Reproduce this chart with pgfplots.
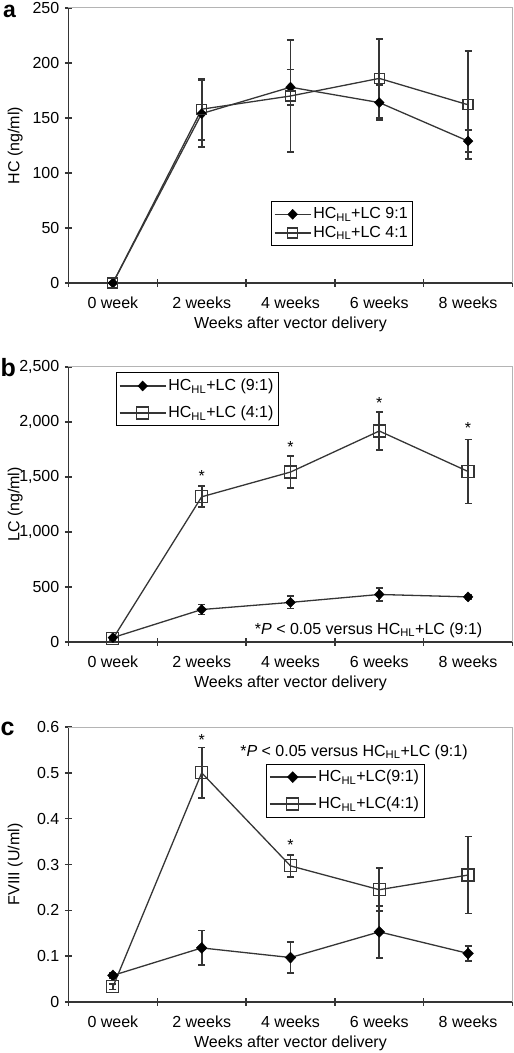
\documentclass[border=0pt]{standalone}
\usepackage{fontspec}
\setmainfont{Liberation Sans}
\usepackage{pgfplots}
\pgfplotsset{compat=1.18}
\definecolor{ln}{HTML}{353535}
\definecolor{frame}{HTML}{B4B4B4}
\pgfplotsset{
  panel/.style={
    scale only axis, width=444pt, height=275pt,
    xmin=-0.5, xmax=4.5, clip=false,
    axis lines*=left,
    axis line style={ln, line width=1.6pt},
    xtick={0,1,2,3,4},
    xticklabels={0 week, 2 weeks, 4 weeks, 6 weeks, 8 weeks},
    minor xtick={-0.5,0.5,1.5,2.5,3.5,4.5},
    major x tick style={draw=none},
    minor x tick style={ln, line width=1.4pt},
    ytick style={ln, line width=1.4pt},
    minor tick length=8pt, major tick length=7pt,
    tick align=center,
    xticklabel style={anchor=base, yshift=-22pt, inner sep=0pt},
    yticklabel style={anchor=east, xshift=-5.5pt, inner sep=0pt},
    xlabel={Weeks after vector delivery},
    every axis x label/.style={at={(axis description cs:0.5,0)}, anchor=center, yshift=-41pt},
    every axis y label/.style={at={(axis description cs:-0.12,0.5)}, anchor=center, rotate=90},
    legend cell align=left,
    legend style={draw=black, line width=1pt, fill=white, inner xsep=3pt, inner ysep=4pt,
      nodes={inner sep=2pt, text=black}},
    after end axis/.code={\draw[frame, line width=1pt] (rel axis cs:0,1) -- (rel axis cs:1,1) -- (rel axis cs:1,0);},
  },
  limg/.style={legend image code/.code={\draw[mark repeat=2,mark phase=2,##1] plot coordinates {(0pt,0pt) (#1/2,0pt) (#1,0pt)};}},
  s9/.style={color=ln, line width=1.3pt, mark=diamond*, mark size=5pt,
    mark options={solid, fill=black, draw=black, xscale=1.3, line width=0.4pt}},
  s4/.style={color=ln, line width=1.3pt, mark=square, mark size=5pt,
    mark options={solid, draw=ln, fill=none, line width=1.2pt}},
  eb/.style={error bars/.cd, y dir=both, y explicit,
    error bar style={line width=1.7pt, ln},
    error mark options={rotate=90, mark size=3.5pt, line width=1.7pt, ln}},
}
\begin{document}
\fontsize{16}{19}\selectfont
\begin{tikzpicture}
\useasboundingbox (0,0) rectangle (514pt,1053pt);
% ---------- panel a ----------
\begin{axis}[panel, at={(68.5pt,770pt)}, anchor=south west,
  ymin=0, ymax=250, ytick={0,50,100,150,200,250},
  yticklabels={0,50,100,150,200,250},
  ylabel={HC (ng/ml)},
  limg=36pt,
  legend style={at={(0.455,0.298)}, anchor=north west, row sep=1pt}]
\addplot[s9, eb] coordinates {
  (0,0) +- (0,0)
  (1,154) +- (0,30.5)
  (2,178) +- (0,16)
  (3,164) +- (0,16)
  (4,129) +- (0,10)
};
\addlegendentry{HC\textsubscript{HL}+LC 9:1}
\addplot[s4, eb] coordinates {
  (0,0) +- (0,0)
  (1,158) +- (0,28)
  (2,170) +- (0,51)
  (3,186) +- (0,36)
  (4,162) +- (0,49)
};
\addlegendentry{HC\textsubscript{HL}+LC 4:1}
\end{axis}
% ---------- panel b ----------
\begin{axis}[panel, at={(68.5pt,411pt)}, anchor=south west,
  ymin=0, ymax=2500, ytick={0,500,1000,1500,2000,2500},
  yticklabels={0,500,{1,000},{1,500},{2,000},{2,500}},
  ylabel={LC (ng/ml)},
  limg=46pt,
  legend style={at={(0.106,0.98)}, anchor=north west, row sep=9pt}]
\addplot[s9, eb] coordinates {
  (0,40) +- (0,10)
  (1,295) +- (0,45)
  (2,360) +- (0,55)
  (3,432) +- (0,60)
  (4,410) +- (0,20)
};
\addlegendentry{HC\textsubscript{HL}+LC (9:1)}
\addplot[s4, mark size=6pt, eb] coordinates {
  (0,30) +- (0,10)
  (1,1320) +- (0,95)
  (2,1545) +- (0,145)
  (3,1918) +- (0,170)
  (4,1550) +- (0,292)
};
\addlegendentry{HC\textsubscript{HL}+LC (4:1)}
\node[anchor=north, inner sep=0pt, yshift=3.5pt] at (axis cs:1,1530) {*};
\node[anchor=north, inner sep=0pt, yshift=3.5pt] at (axis cs:2,1794) {*};
\node[anchor=north, inner sep=0pt, yshift=3.5pt] at (axis cs:3,2196) {*};
\node[anchor=north, inner sep=0pt, yshift=3.5pt] at (axis cs:4,1962) {*};
\node[anchor=base, inner sep=0pt] at (axis cs:2.88,70) {*\textit{P} < 0.05 versus HC\textsubscript{HL}+LC (9:1)};
\end{axis}
% ---------- panel c ----------
\begin{axis}[panel, at={(68.5pt,51pt)}, anchor=south west,
  ymin=0, ymax=0.6, ytick={0,0.1,0.2,0.3,0.4,0.5,0.6},
  yticklabels={0,0.1,0.2,0.3,0.4,0.5,0.6},
  ylabel={FVIII (U/ml)},
  limg=46pt,
  legend style={at={(0.444,0.867)}, anchor=north west, row sep=9pt}]
\addplot[s9, mark size=5.5pt, eb] coordinates {
  (0,0.058) +- (0,0.005)
  (1,0.118) +- (0,0.038)
  (2,0.097) +- (0,0.034)
  (3,0.153) +- (0,0.057)
  (4,0.106) +- (0,0.016)
};
\addlegendentry{HC\textsubscript{HL}+LC(9:1)}
\addplot[s4, mark size=6pt, eb] coordinates {
  (0,0.033) +- (0,0.006)
  (1,0.500) +- (0,0.055)
  (2,0.297) +- (0,0.024)
  (3,0.245) +- (0,0.047)
  (4,0.277) +- (0,0.084)
};
\addlegendentry{HC\textsubscript{HL}+LC(4:1)}
\node[anchor=north, inner sep=0pt, yshift=3.5pt] at (axis cs:1,0.577) {*};
\node[anchor=north, inner sep=0pt, yshift=3.5pt] at (axis cs:2,0.347) {*};
\node[anchor=base, inner sep=0pt] at (axis cs:2.715,0.5365) {*\textit{P} < 0.05 versus HC\textsubscript{HL}+LC (9:1)};
\end{axis}
% panel letters
\node[anchor=base west, inner sep=0pt, font=\fontsize{23}{23}\selectfont\bfseries] at (3pt,1035pt) {a};
\node[anchor=base west, inner sep=0pt, font=\fontsize{25}{25}\selectfont\bfseries] at (0.5pt,676.3pt) {b};
\node[anchor=base west, inner sep=0pt, font=\fontsize{25}{25}\selectfont\bfseries] at (0.5pt,317pt) {c};
\end{tikzpicture}
\end{document}
